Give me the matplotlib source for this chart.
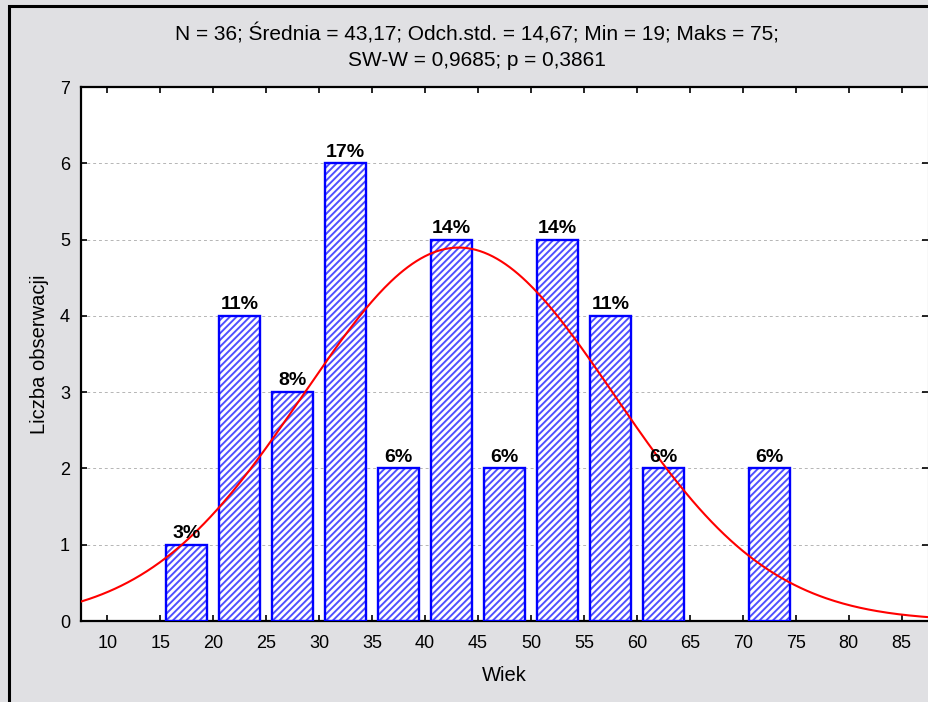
import numpy as np
import matplotlib
matplotlib.use("Agg")
import matplotlib.pyplot as plt
from matplotlib.patches import Rectangle

plt.rcParams['font.family'] = ['Liberation Sans', 'DejaVu Sans']
plt.rcParams['hatch.linewidth'] = 1.4

# Data
bin_left = [15, 20, 25, 30, 35, 40, 45, 50, 55, 60, 65, 70]
counts = [1, 4, 3, 6, 2, 5, 2, 5, 4, 2, 0, 2]
pct_labels = ["3%", "11%", "8%", "17%", "6%", "14%", "6%", "14%", "11%", "6%", "", "6%"]
n_obs = 36
mean_val = 43.17
sd_val = 14.67
bin_width = 5

title_1 = "N = 36; Średnia = 43,17; Odch.std. = 14,67; Min = 19; Maks = 75;"
title_2 = "SW-W = 0,9685; p = 0,3861"

fig = plt.figure(figsize=(9.29, 7.02), dpi=100)
fig.patch.set_facecolor("#e0e0e3")

# black frame on left/top
fig.add_artist(Rectangle((9.5 / 929, -0.5), 2, 1.5 - 6 / 702, transform=fig.transFigure,
                         fill=False, edgecolor="black", linewidth=2.2))

ax = fig.add_axes([81 / 929, 1 - 621 / 702, 847 / 929, 534 / 702])
ax.set_facecolor("white")

centers = [b + bin_width / 2 for b in bin_left]
bar_x = [c for c, v in zip(centers, counts) if v > 0]
bar_h = [v for v in counts if v > 0]

# hatch fill, then solid blue outline
ax.bar(bar_x, bar_h, width=3.85, color="white", edgecolor="#5050ff",
       linewidth=0, hatch="/////", zorder=3)
ax.bar(bar_x, bar_h, width=3.85, fill=False, edgecolor="#0000ff",
       linewidth=1.7, zorder=3)

for c, v, lab in zip(centers, counts, pct_labels):
    if lab:
        ax.annotate(lab, (c, v), xytext=(0, 2), textcoords="offset points",
                    ha="center", va="bottom", fontsize=14, fontweight="bold", zorder=5)

# fitted normal curve
xs = np.linspace(7.5, 87.5, 400)
ys = n_obs * bin_width * np.exp(-0.5 * ((xs - mean_val) / sd_val) ** 2) / (sd_val * np.sqrt(2 * np.pi))
ax.plot(xs, ys, color="red", linewidth=1.5, zorder=4)

ax.set_xlim(7.5, 87.5)
ax.set_ylim(0, 7)
ax.set_xticks(range(10, 90, 5))
ax.set_yticks(range(0, 8))
ax.grid(axis="y", color="#b5b5b5", linestyle=(0, (3, 3)), linewidth=0.7, zorder=0)
ax.tick_params(direction="in", top=True, right=True, length=4, width=1.2,
               labelsize=13, colors="black")
ax.tick_params(axis="x", pad=10)
ax.tick_params(axis="y", pad=8)
for s in ["left", "bottom", "top"]:
    ax.spines[s].set_linewidth(1.6)
ax.spines["right"].set_linewidth(0.8)
ax.spines["right"].set_color("#909090")

ax.set_xlabel("Wiek", fontsize=14.5, labelpad=10)
ax.set_ylabel("Liczba obserwacji", fontsize=14.5, labelpad=8)

fig.text(477 / 929, 1 - 34 / 702, title_1, ha="center", va="center", fontsize=15)
fig.text(477 / 929, 1 - 61 / 702, title_2, ha="center", va="center", fontsize=15)

fig.savefig("out.png", dpi=100, facecolor=fig.get_facecolor())
